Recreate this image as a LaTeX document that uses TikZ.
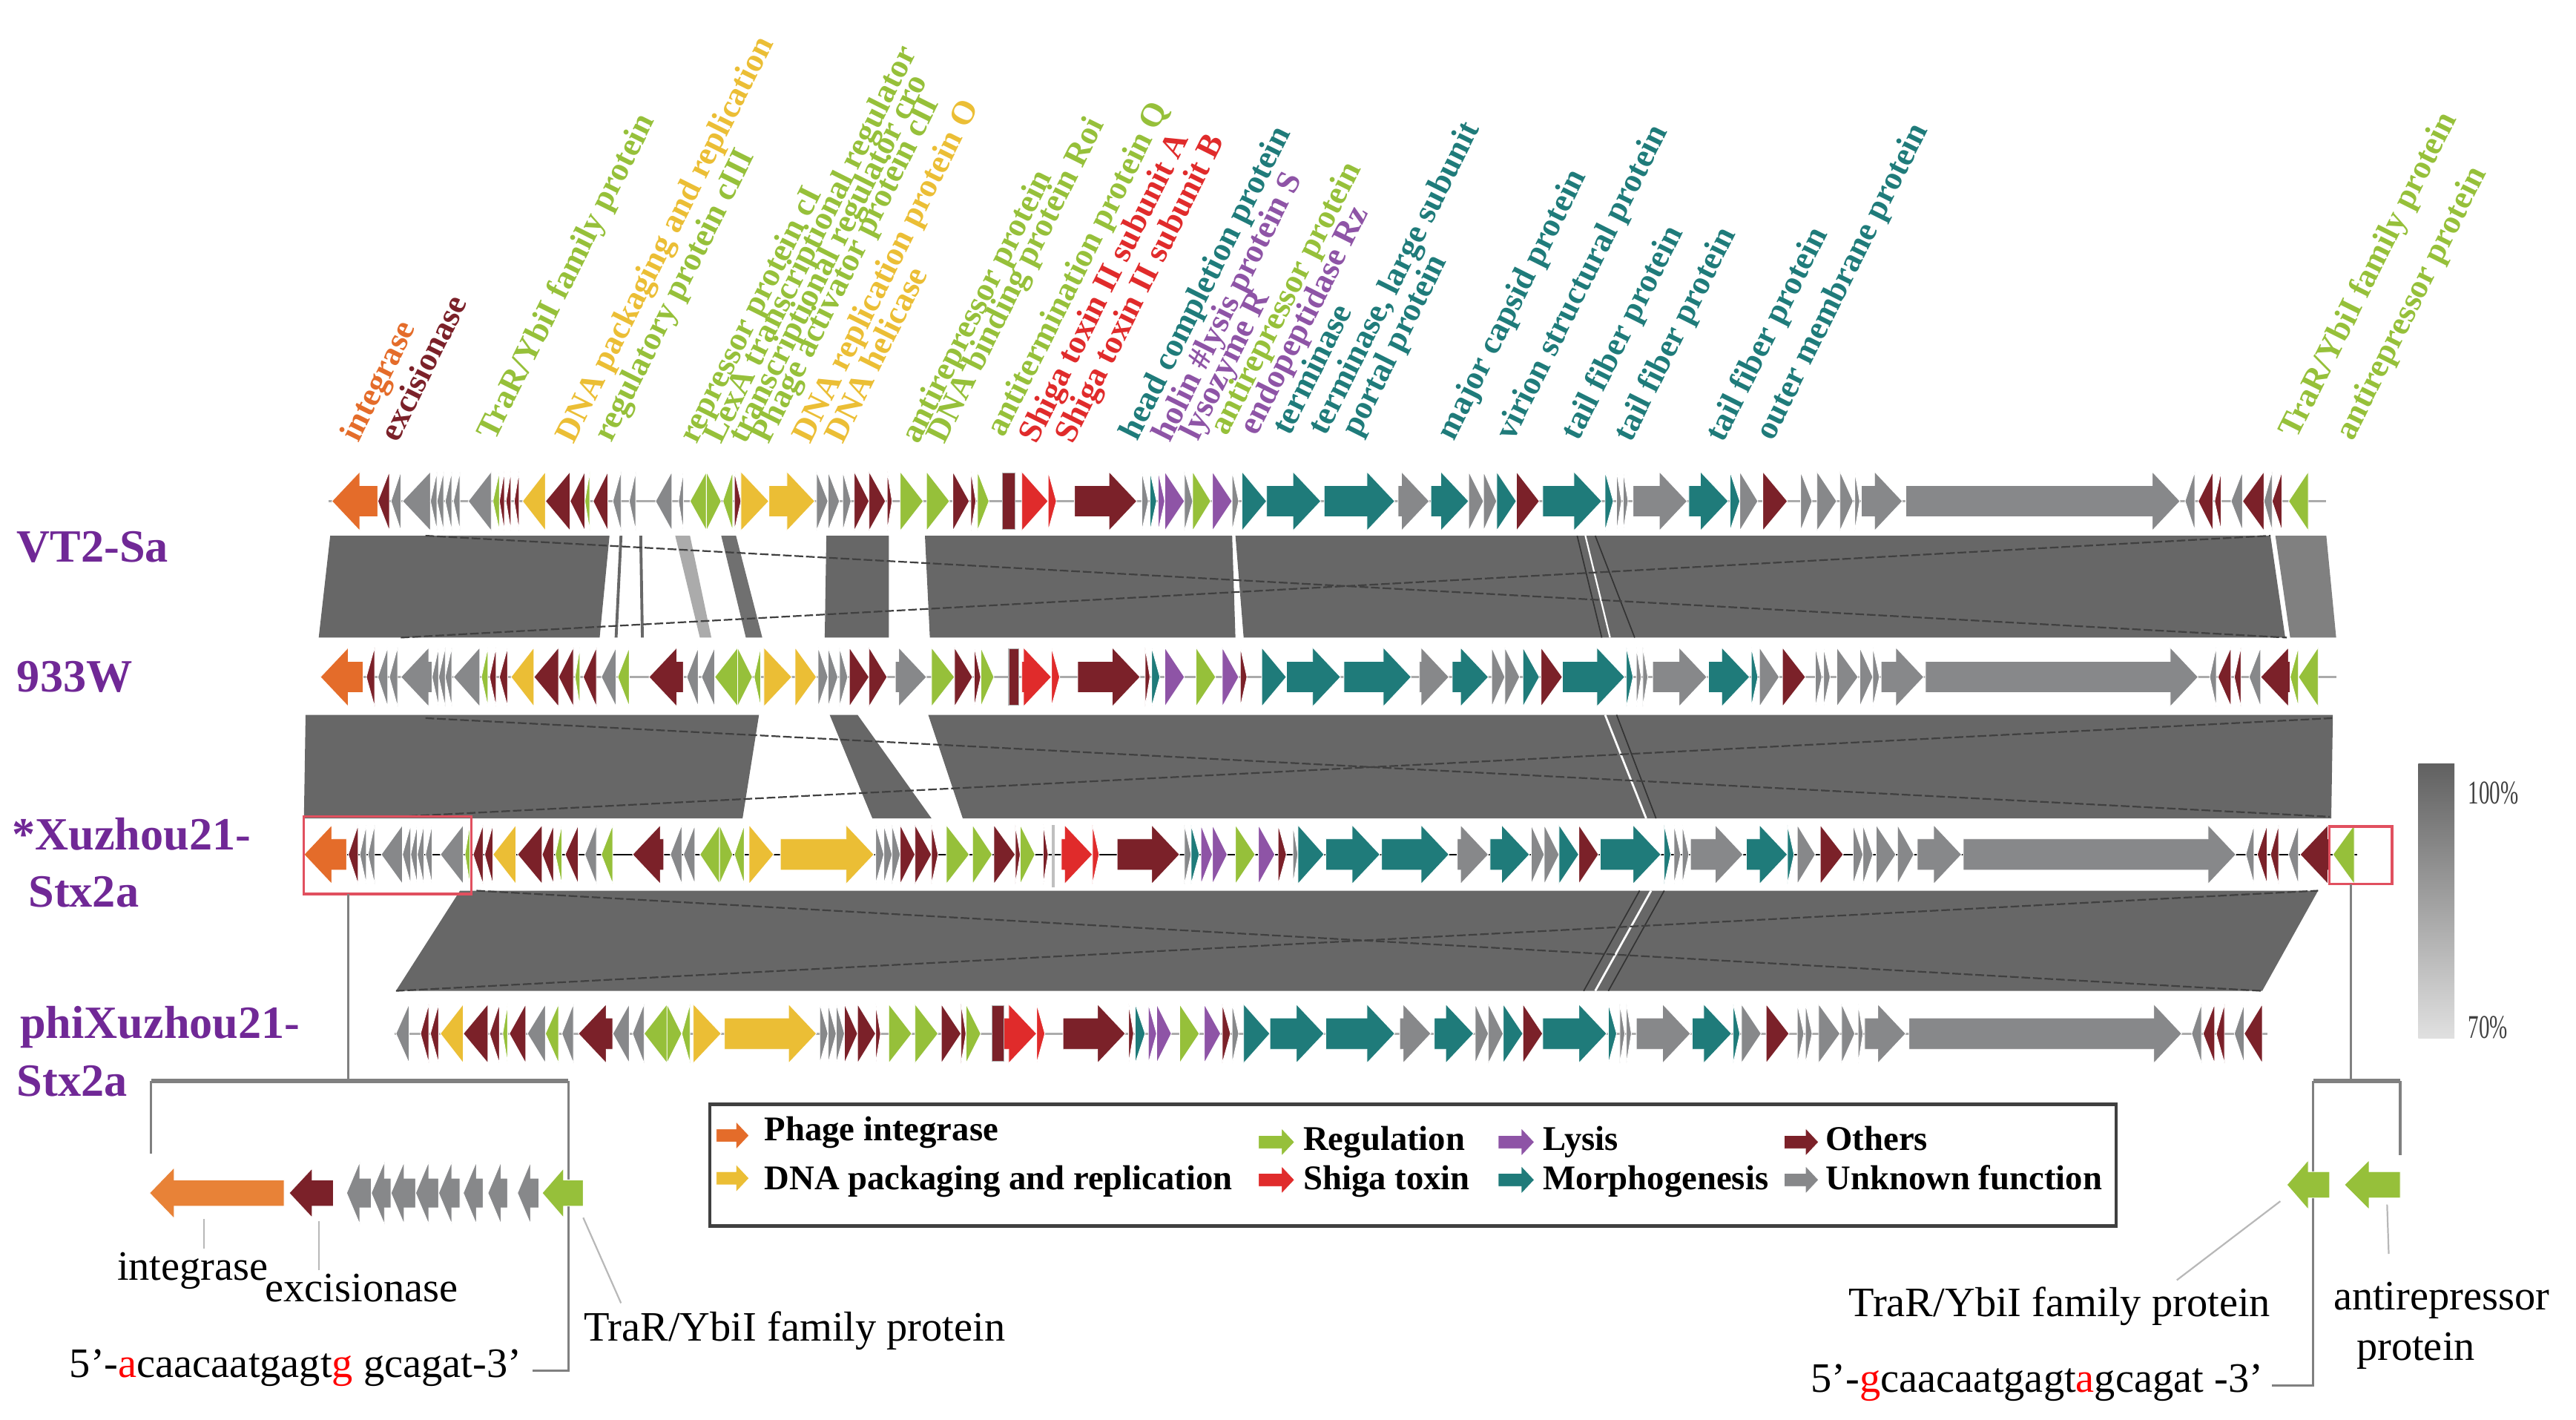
\documentclass[tikz,border=0pt]{standalone}
\usepackage{fontspec}
\usepackage{graphicx}
\setmainfont{Liberation Serif}

\definecolor{gO}{RGB}{228,108,42}
\definecolor{gOl}{RGB}{232,130,55}
\definecolor{gM}{RGB}{123,33,41}
\definecolor{gG}{RGB}{135,136,138}
\definecolor{gN}{RGB}{150,192,58}
\definecolor{gY}{RGB}{235,190,53}
\definecolor{gR}{RGB}{224,43,43}
\definecolor{gP}{RGB}{142,84,166}
\definecolor{gT}{RGB}{31,123,122}
\definecolor{labpurple}{RGB}{112,40,150}
\definecolor{simgray}{RGB}{103,103,103}
\definecolor{boxred}{RGB}{225,80,95}

% gene arrow: y, tail x, tip x, colour, head half height, shaft half height, head length
\newcommand\genebox[7]{%
  \pgfmathsetmacro\headx{#3>#2 ? #3-min(#3-#2,#7) : #3+min(#2-#3,#7)}%
  \path[fill=#4, draw=white, line width=0.08mm]
    (#2,#1-#6) -- (\headx,#1-#6) -- (\headx,#1-#5) -- (#3,#1)
    -- (\headx,#1+#5) -- (\headx,#1+#6) -- (#2,#1+#6) -- cycle;}
\newcommand\gene[4]{\genebox{#1}{#2}{#3}{#4}{18}{9.5}{17}}

\begin{document}
\begin{tikzpicture}[x=0.2mm, y=-0.2mm,
  toplab/.style={rotate=63.5, anchor=base west, inner sep=0pt,
    font=\bfseries\fontsize{11.5}{13}\selectfont},
  phagelab/.style={anchor=base west, inner sep=0pt, text=labpurple,
    font=\bfseries\fontsize{16}{19}\selectfont},
  legtext/.style={anchor=base west, inner sep=0pt,
    font=\bfseries\fontsize{12}{14}\selectfont},
  insettext/.style={anchor=base west, inner sep=0pt,
    font=\fontsize{14.5}{17}\selectfont},
  trackline/.style={draw=black!33, line width=0.7pt},
  bracket/.style={draw=black!50, line width=0.3mm},
  leader/.style={draw=black!28, line width=0.2mm},
  matchline/.style={draw=black!75, line width=0.2mm, dash pattern=on 3pt off 1pt}]

\useasboundingbox (0,0) rectangle (1568,864);

% similarity bands VT2-Sa / 933W
\fill[simgray] (201,326) -- (371,326) -- (365,388) -- (194,388) -- cycle;
\draw[simgray, line width=0.35mm] (378,326) -- (375,388);
\draw[simgray, line width=0.35mm] (390,326) -- (391,388);
\fill[black!33] (411,326) -- (420,326) -- (433,388) -- (426,388) -- cycle;
\fill[black!56] (439,326) -- (448,326) -- (464,388) -- (454,388) -- cycle;
\fill[simgray] (503,326) -- (541,326) -- (541,388) -- (502,388) -- cycle;
\fill[simgray] (563,326) -- (750,326) -- (752,388) -- (566,388) -- cycle;
\fill[simgray] (752,326) -- (1382,326) -- (1391,388) -- (757,388) -- cycle;
\fill[black!50] (1385,326) -- (1416,326) -- (1422,388) -- (1394,388) -- cycle;
\draw[black!80, line width=0.15mm] (960,326) -- (975,388) (971,326) -- (995,388);
\draw[white, line width=0.2mm] (965,326) -- (980,388);
\draw[matchline] (259,326) -- (1392,388);
\draw[matchline] (244,388) -- (1382,326);

% similarity bands 933W / Xuzhou21
\fill[simgray] (186,435) -- (462,435) -- (452,498) -- (185,498) -- cycle;
\fill[simgray] (505,435) -- (522,435) -- (567,498) -- (531,498) -- cycle;
\fill[simgray] (565,435) -- (1420,435) -- (1419,498) -- (586,498) -- cycle;
\draw[black!80, line width=0.15mm] (984,435) -- (1008,498);
\draw[white, line width=0.25mm] (977,435) -- (1002,498);
\draw[matchline] (259,437) -- (1418,497);
\draw[matchline] (242,497) -- (1420,437);

% similarity bands Xuzhou21 / phiXuzhou21
\fill[simgray] (280,542) -- (1411,542) -- (1377,603) -- (241,603) -- cycle;
\draw[black!80, line width=0.15mm] (998,542) -- (964,603) (1013,542) -- (979,603);
\draw[white, line width=0.25mm] (1005,542) -- (971,603);
\draw[matchline] (290,542) -- (1377,603);
\draw[matchline] (241,603) -- (1411,542);

% backbones
\draw[trackline] (200,305) -- (1416,305);
\draw[trackline] (195,412) -- (1422,412);
\draw[black, line width=0.4pt] (185,520) -- (1435,520);
\draw[trackline] (240,629) -- (1380,629);

% VT2-Sa
\foreach \a/\b/\c in {230/202/gO, 237/230/gM, 244/238/gG, 262/245/gG, 266/262/gG,
  270/266/gG, 275/271/gG, 280/276/gG, 299/285/gG, 304/300/gN, 307/304/gM, 311/308/gM,
  316/313/gM, 332/318/gY, 347/332/gM, 356/347/gM, 359/356/gN, 370/361/gM, 378/373/gG,
  387/383/gG, 409/399/gG, 416/413/gG, 430/420/gN, 430/439/gN, 446/440/gN, 447/451/gM,
  451/468/gY, 468/496/gY, 497/504/gG, 504/511/gG, 513/518/gG, 520/529/gM, 529/539/gM,
  540/543/gM, 548/562/gN, 564/578/gN, 580/590/gM, 591/594/gM, 595/602/gN, 622/638/gR,
  638/643/gR, 654/692/gM, 695/699/gG, 700/704/gT, 705/709/gP, 709/721/gP, 721/726/gG,
  726/737/gN, 738/750/gP, 750/754/gG, 756/771/gT, 771/804/gT, 806/849/gT, 851/870/gG,
  871/894/gT, 894/903/gG, 903/911/gG, 911/923/gT, 923/937/gM, 939/975/gT, 977/982/gT,
  984/987/gG, 988/991/gG, 994/1027/gG, 1028/1052/gT, 1053/1059/gT, 1059/1070/gG,
  1073/1088/gM, 1096/1103/gG, 1106/1118/gG, 1120/1128/gG, 1129/1132/gG, 1133/1158/gG,
  1160/1327/gG, 1336/1330/gG, 1347/1338/gM, 1352/1348/gM, 1365/1358/gG, 1378/1365/gM,
  1383/1378/gG, 1389/1383/gM, 1405/1393/gN}
  {\gene{305}{\a}{\b}{\c}}
\filldraw[fill=gM, draw=black!30, line width=0.1mm] (610,288) rectangle (618,322);

% 933W
\foreach \a/\b/\c in {221/195/gO, 228/223/gM, 236/230/gG, 242/237/gG, 263/244/gG,
  267/263/gG, 271/267/gG, 275/271/gG, 292/276/gG, 297/293/gN, 302/298/gM, 309/304/gM,
  325/311/gY, 340/325/gM, 349/340/gM, 353/350/gN, 363/355/gM, 375/366/gG, 383/376/gN,
  416/395/gM, 425/418/gG, 435/427/gG, 449/435/gN, 449/458/gN, 463/459/gN, 465/482/gY,
  484/497/gY, 498/504/gG, 504/510/gG, 511/516/gG, 517/529/gM, 529/540/gM, 545/564/gG,
  567/581/gN, 581/592/gM, 593/597/gM, 597/605/gN, 622/640/gR, 640/645/gR, 656/694/gM,
  697/700/gM, 701/706/gT, 709/721/gP, 728/740/gN, 744/754/gP, 755/759/gM, 768/783/gT,
  783/816/gT, 818/859/gT, 864/882/gG, 884/906/gT, 908/916/gG, 916/925/gG, 927/937/gT,
  938/951/gM, 951/989/gT, 990/994/gT, 996/999/gG, 1000/1003/gG, 1006/1039/gG,
  1040/1065/gT, 1066/1070/gT, 1071/1083/gG, 1085/1099/gM, 1105/1109/gG, 1110/1114/gG,
  1118/1131/gG, 1132/1140/gG, 1140/1144/gG, 1145/1171/gG, 1172/1338/gG, 1349/1345/gG,
  1358/1350/gM, 1364/1360/gM, 1376/1369/gG, 1394/1376/gM, 1399/1394/gN, 1411/1399/gN}
  {\gene{412}{\a}{\b}{\c}}
\filldraw[fill=gM, draw=black!30, line width=0.1mm] (614,395) rectangle (620,429);

% Xuzhou21-Stx2a
\foreach \a/\b/\c in {211/185/gO, 218/212/gM, 223/219/gG, 228/224/gG, 245/232/gG,
  250/245/gG, 254/250/gG, 258/254/gG, 263/259/gG, 282/268/gG, 286/283/gN, 294/288/gM,
  300/295/gM, 314/300/gY, 330/315/gM, 337/330/gM, 342/338/gN, 352/344/gM, 363/356/gG,
  373/366/gN, 404/385/gM, 415/408/gG, 423/416/gG, 438/426/gN, 438/446/gN, 453/447/gN,
  456/471/gY, 475/532/gY, 533/538/gG, 538/543/gG, 543/548/gG, 548/557/gM, 557/567/gM,
  567/571/gM, 576/590/gN, 592/604/gN, 605/618/gM, 618/621/gM, 621/630/gN, 635/638/gM,
  646/665/gR, 665/669/gR, 680/718/gM, 721/725/gG, 725/730/gT, 731/738/gP, 738/747/gP,
  752/764/gN, 766/776/gP, 778/783/gM, 787/790/gG, 790/806/gT, 807/840/gT, 841/882/gT,
  887/906/gG, 907/931/gT, 932/940/gG, 940/949/gG, 949/961/gT, 961/973/gM, 974/1011/gT,
  1013/1017/gT, 1019/1023/gG, 1024/1028/gG, 1029/1061/gG, 1063/1088/gT, 1088/1092/gT,
  1094/1105/gG, 1108/1122/gM, 1128/1134/gG, 1134/1140/gG, 1142/1154/gG, 1155/1165/gG,
  1167/1194/gG, 1195/1361/gG, 1372/1367/gG, 1380/1374/gM, 1387/1382/gM, 1399/1393/gG,
  1418/1400/gM, 1433/1420/gN}
  {\gene{520}{\a}{\b}{\c}}
\fill[black!25] (640,502) rectangle (642,540);

% phiXuzhou21-Stx2a
\foreach \a/\b/\c in {249/241/gG, 261/256/gM, 267/262/gM, 282/268/gY, 297/282/gM,
  304/298/gM, 309/306/gN, 320/310/gM, 332/321/gG, 340/332/gN, 349/342/gG, 373/352/gM,
  383/373/gG, 392/385/gG, 406/392/gN, 406/415/gN, 420/415/gN, 422/439/gY, 441/497/gY,
  499/504/gG, 504/509/gG, 509/514/gG, 514/522/gM, 522/533/gM, 533/536/gM, 541/555/gN,
  557/571/gN, 573/585/gM, 585/588/gM, 588/597/gN, 611/631/gR, 631/636/gR, 647/685/gM,
  687/690/gM, 691/697/gT, 699/704/gP, 704/713/gP, 718/730/gN, 733/743/gP, 744/749/gM,
  750/754/gG, 757/773/gT, 773/806/gT, 807/849/gT, 852/871/gG, 873/897/gT, 898/906/gG,
  906/915/gG, 915/927/gT, 927/939/gM, 939/978/gT, 979/984/gT, 986/989/gG, 990/993/gG,
  996/1029/gG, 1030/1054/gT, 1055/1059/gT, 1060/1072/gG, 1075/1089/gM, 1094/1098/gG,
  1099/1103/gG, 1107/1120/gG, 1121/1129/gG, 1131/1134/gG, 1135/1160/gG, 1162/1328/gG,
  1340/1334/gG, 1348/1341/gM, 1354/1349/gM, 1366/1360/gG, 1377/1366/gM}
  {\gene{629}{\a}{\b}{\c}}
\filldraw[fill=gM, draw=black!30, line width=0.1mm] (604,612) rectangle (611,646);

% boxed regions
\draw[boxred, line width=0.3mm] (185,497) rectangle (287,544);
\draw[boxred, line width=0.3mm] (1418,503) rectangle (1456,538);

% gene annotations
\node[toplab, text=gO] (t1) at (218,270) {integrase};
\node[toplab, text=gM] (t2) at (242,270) {excisionase};
\node[toplab, text=gN] (t3) at (301,269) {TraR/YbiI family protein};
\node[toplab, text=gY] (t4) at (349,271) {DNA packaging and replication};
\node[toplab, text=gN] (t5) at (372,270) {regulatory protein cIII};
\node[toplab, text=gN] (t6) at (424,271) {repressor protein cI};
\node[toplab, text=gN] (t7) at (439,271) {LexA transcriptional regulator};
\node[toplab, text=gN] (t8) at (454,271) {transcriptional regulator cro};
\node[toplab, text=gN] (t9) at (468,271) {Phage activator protein cII};
\node[toplab, text=gY] (t10) at (493,271) {DNA replication protein O};
\node[toplab, text=gY] (t11) at (513,271) {DNA helicase};
\node[toplab, text=gN] (t12) at (559,271) {antirepressor protein};
\node[toplab, text=gN] (t13) at (575,271) {DNA binding protein Roi};
\node[toplab, text=gN] (t14) at (611,267) {antitermination protein Q};
\node[toplab, text=gR] (t15) at (631,271) {Shiga toxin II subunit A};
\node[toplab, text=gR] (t16) at (653,271) {Shiga toxin II subunit B};
\node[toplab, text=gT] (t17) at (692,269) {head completion protein};
\node[toplab, text=gP] (t18) at (712,270) {holin \#lysis protein S};
\node[toplab, text=gP] (t19) at (729,269) {lysozyme R};
\node[toplab, text=gN] (t20) at (747,266) {antirepressor protein};
\node[toplab, text=gP] (t21) at (765,266) {endopeptidase Rz};
\node[toplab, text=gT] (t22) at (785,266) {terminase};
\node[toplab, text=gT] (t23) at (807,266) {terminase, large subunit};
\node[toplab, text=gT] (t24) at (827,267) {portal protein};
\node[toplab, text=gT] (t25) at (885,269) {major capsid protein};
\node[toplab, text=gT] (t26) at (921,269) {virion structural protein};
\node[toplab, text=gT] (t27) at (961,269) {tail fiber protein};
\node[toplab, text=gT] (t28) at (993,270) {tail fiber protein};
\node[toplab, text=gT] (t29) at (1049,270) {tail fiber protein};
\node[toplab, text=gT] (t30) at (1079,269) {outer membrane protein};
\node[toplab, text=gN] (t31) at (1398,268) {TraR/YbiI family protein};
\node[toplab, text=gN] (t32) at (1432,269) {antirepressor protein};

% phage names
\node[phagelab] (p1) at (10,342) {VT2-Sa};
\node[phagelab] (p2) at (10,421) {933W};
\node[phagelab] (p3) at (7,517) {*Xuzhou21-};
\node[phagelab] (p3b) at (17,552) {Stx2a};
\node[phagelab] (p4) at (12,632) {phiXuzhou21-};
\node[phagelab] (p4b) at (10,667) {Stx2a};

% identity scale
\shade[top color=black!62, bottom color=black!12] (1472,465) rectangle (1494,632);
\node[anchor=base west, inner sep=0pt, text=black!75, font=\fontsize{11.5}{13}\selectfont]
  (s100) at (1502,489) {\scalebox{0.65}[1]{100\%}};
\node[anchor=base west, inner sep=0pt, text=black!75, font=\fontsize{11.5}{13}\selectfont]
  (s70) at (1502,632) {\scalebox{0.65}[1]{70\%}};

% legend
\draw[black!75, line width=0.4mm] (432,672) rectangle (1288,746);
\genebox{691}{436}{456}{gO}{8.5}{4}{8}
\genebox{717}{436}{456}{gY}{8.5}{4}{8}
\genebox{695}{766}{788}{gN}{8.5}{4}{8}
\genebox{718}{766}{788}{gR}{8.5}{4}{8}
\genebox{695}{912}{934}{gP}{8.5}{4}{8}
\genebox{718}{912}{934}{gT}{8.5}{4}{8}
\genebox{695}{1086}{1107}{gM}{8.5}{4}{8}
\genebox{718}{1086}{1107}{gG}{8.5}{4}{8}
\node[legtext] (lg1) at (465,694) {Phage integrase};
\node[legtext] (lg2) at (465,724) {DNA packaging and replication};
\node[legtext] (lg3) at (793,700) {Regulation};
\node[legtext] (lg4) at (793,724) {Shiga toxin};
\node[legtext] (lg5) at (939,700) {Lysis};
\node[legtext] (lg6) at (939,724) {Morphogenesis};
\node[legtext] (lg7) at (1111,700) {Others};
\node[legtext] (lg8) at (1111,724) {Unknown function};

% left enlargement
\coordinate (bxl) at (212,544);
\coordinate (brl) at (212,658);
\coordinate (brla) at (92,658);
\coordinate (brlb) at (346,658);
\coordinate (brlc) at (92,702);
\coordinate (brld) at (346,834);
\coordinate (brle) at (324,834);
\draw[bracket] (bxl) -- (brl);
\draw[bracket, line width=0.55mm] (brla) -- (brlb);
\draw[bracket] (brla) -- (brlc);
\draw[bracket] (brlb) -- (brld) -- (brle);
\genebox{726}{173}{91}{gOl}{15.5}{8}{15}
\genebox{726}{203}{176}{gM}{15}{8}{14}
\foreach \a/\b in {328/315, 309/297, 294/282, 280/267, 267/253, 253/238, 238/226, 226/211}
  {\genebox{726}{\a}{\b}{gG}{19}{9}{8}}
\genebox{726}{355}{330}{gN}{15}{8}{13}
\node[insettext] (li) at (71,779) {integrase};
\node[insettext] (lx) at (161,792) {excisionase};
\node[insettext] (lt) at (355,816) {TraR/YbiI family protein};
\node[insettext] (ls) at (42,838) {5’-\textcolor{red}{a}caacaatgagt\textcolor{red}{g} gcagat-3’};
\coordinate (gi) at (124,742);
\coordinate (gx) at (194,743);
\coordinate (gt) at (355,741);
\draw[leader] (gi) -- (124,760);
\draw[leader] (gx) -- (194,773);
\draw[leader] (gt) -- (378,793);

% right enlargement
\coordinate (bxr) at (1431,538);
\coordinate (brr) at (1431,658);
\coordinate (brra) at (1408,658);
\coordinate (brrb) at (1461,658);
\coordinate (brrc) at (1461,703);
\coordinate (brrd) at (1408,843);
\coordinate (brre) at (1383,843);
\draw[bracket] (bxr) -- (brr);
\draw[bracket, line width=0.55mm] (brra) -- (brrb);
\draw[bracket] (brrb) -- (brrc);
\draw[bracket] (brra) -- (brrd) -- (brre);
\genebox{721}{1418}{1392}{gN}{15}{8}{13}
\genebox{721}{1461}{1427}{gN}{15}{8}{15}
\node[insettext] (rt) at (1125,801) {TraR/YbiI family protein};
\node[insettext] (ra) at (1420,797) {antirepressor};
\node[insettext] (rb) at (1434,828) {protein};
\node[insettext] (rs) at (1102,847) {5’-\textcolor{red}{g}caacaatgagt\textcolor{red}{a}gcagat -3’};
\coordinate (gr1) at (1388,731);
\coordinate (gr2) at (1453,733);
\draw[leader] (gr1) -- (1325,779);
\draw[leader] (gr2) -- (1454,763);
\end{tikzpicture}
\end{document}
